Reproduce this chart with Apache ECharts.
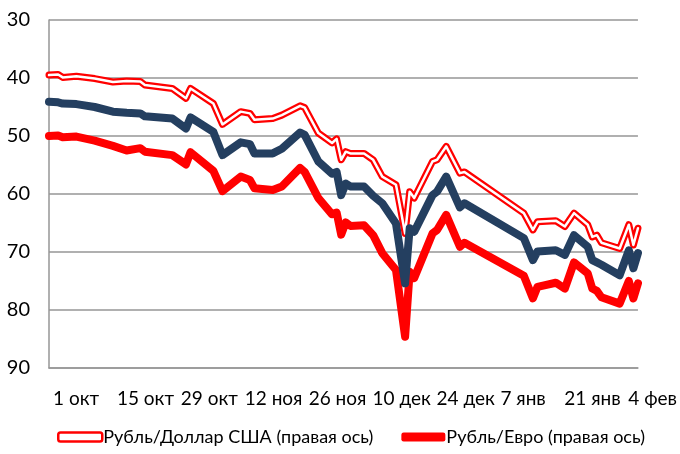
<!DOCTYPE html>
<html>
<head>
<meta charset="utf-8">
<script src="https://cdn.jsdelivr.net/npm/echarts@6/dist/echarts.min.js"></script>
<style>
html,body{margin:0;padding:0;background:#fff;}
#chart{width:680px;height:454px;}
</style>
</head>
<body>
<div id="chart"></div>
<script>
// Dates of the observations
const dates = [
  '2014-10-01','2014-10-03','2014-10-04','2014-10-07','2014-10-11','2014-10-15','2014-10-18','2014-10-21','2014-10-22',
  '2014-10-28','2014-10-31','2014-11-01','2014-11-06','2014-11-08','2014-11-12','2014-11-14','2014-11-15','2014-11-19',
  '2014-11-21','2014-11-25','2014-11-26','2014-11-29','2014-12-02','2014-12-03','2014-12-04','2014-12-05','2014-12-06',
  '2014-12-09','2014-12-11','2014-12-13','2014-12-16','2014-12-18','2014-12-19','2014-12-20','2014-12-24','2014-12-25',
  '2014-12-27','2014-12-30','2014-12-31','2015-01-13','2015-01-15','2015-01-16','2015-01-20','2015-01-22','2015-01-24',
  '2015-01-27','2015-01-28','2015-01-29','2015-01-30','2015-02-03','2015-02-05','2015-02-06','2015-02-07'
];
// Рубль/Доллар США (hollow red line)
const usd = [
  39.5,39.4,39.9,39.7,40.1,40.7,40.5,40.6,41.2,
  41.8,43.5,41.8,44.4,48.0,45.8,46.1,47.2,47.0,
  46.4,44.8,45.1,49.5,51.2,50.5,54.1,52.7,53.0,
  53.0,54.1,57.0,58.4,66.8,59.6,60.7,54.4,54.1,
  51.8,56.4,56.2,63.3,66.2,64.8,64.6,65.6,63.3,
  65.3,67.4,67.1,68.4,69.4,65.3,68.8,65.9
];
// Currency basket (dark blue line, not in legend)
const basket = [
  44.1,44.2,44.4,44.5,45.0,45.8,46.0,46.1,46.6,
  47.0,48.7,46.8,49.3,53.3,51.1,51.4,53.0,53.0,
  52.2,49.4,49.8,54.4,56.5,56.2,60.2,58.2,58.7,
  58.7,60.3,61.6,65.1,75.4,65.9,66.5,60.2,59.6,
  57.0,62.3,61.6,67.6,71.4,69.9,69.7,70.5,67.1,
  69.1,71.4,71.8,72.2,74.0,69.7,72.8,70.2
];
// Рубль/Евро (solid red line)
const eur = [
  50.0,49.9,50.2,50.1,50.8,51.7,52.5,52.1,52.7,
  53.3,54.9,52.8,56.0,59.5,57.0,57.6,59.0,59.3,
  58.7,55.5,56.2,60.7,63.5,63.2,67.0,64.9,65.5,
  65.4,67.1,70.2,73.1,84.6,73.4,74.5,66.8,66.2,
  63.6,69.1,68.4,74.1,78.0,76.0,75.3,76.3,71.8,
  73.7,76.3,76.7,77.8,78.9,75.0,78.0,75.4
];
const tickLabels = ['1 окт','15 окт','29 окт','12 ноя','26 ноя','10 дек','24 дек','7 янв','21 янв','4 фев'];
const startDate = '2014-10-01';
const endDate = '2015-02-07';
const nameUsd = 'Рубль/Доллар США (правая ось)';
const nameEur = 'Рубль/Евро (правая ось)';

const DAY = 86400000;
const t0 = Date.parse(startDate + 'T00:00:00Z');
const dayOf = s => Math.round((Date.parse(s + 'T00:00:00Z') - t0) / DAY);
const pairs = arr => arr.map((v, i) => [dayOf(dates[i]), v]);

const FONT = 'Lato, "Liberation Sans", sans-serif';
const chart = echarts.init(document.getElementById('chart'), null, {renderer: 'canvas'});
chart.setOption({
  animation: false,
  backgroundColor: '#fff',
  grid: {left: 49, right: 32, top: 20, bottom: 86, containLabel: false},
  xAxis: {
    type: 'value', min: 0, max: dayOf(endDate), interval: 14,
    axisLine: {show: true, onZero: false, lineStyle: {color: '#969696', width: 1.5}},
    axisTick: {show: false},
    splitLine: {show: false},
    axisLabel: {
      show: true, color: '#000', fontFamily: FONT, fontSize: 19, margin: 21, align: 'left',
      padding: [0, 0, 0, 4], showMaxLabel: false,
      formatter: v => (v % 14 === 0 && tickLabels[v / 14] !== undefined) ? tickLabels[v / 14] : ''
    }
  },
  yAxis: {
    type: 'value', inverse: true, min: 30, max: 90, interval: 10,
    axisLine: {show: true, lineStyle: {color: '#969696', width: 1.5}},
    axisTick: {show: false},
    splitLine: {show: true, lineStyle: {color: '#969696', width: 1.5}},
    axisLabel: {color: '#000', fontFamily: FONT, fontSize: 20, margin: 19}
  },
  legend: {
    bottom: 3, left: 52, itemGap: 28, itemWidth: 44, itemHeight: 9,
    textStyle: {color: '#000', fontFamily: FONT, fontSize: 18, padding: [0, 0, 0, -4]},
    data: [
      {name: nameUsd, icon: 'roundRect', itemStyle: {color: '#fff', borderColor: '#ff0000', borderWidth: 2.5}},
      {name: nameEur, icon: 'roundRect', itemStyle: {color: '#ff0000'}}
    ]
  },
  series: [
    {name: nameEur, type: 'line', data: pairs(eur), showSymbol: false, smooth: false,
     lineStyle: {color: '#ff0000', width: 8, join: 'round', cap: 'round'}, itemStyle: {color: '#ff0000'}},
    {name: nameUsd, type: 'line', data: pairs(usd), showSymbol: false, smooth: false,
     lineStyle: {color: '#ff0000', width: 7, join: 'round', cap: 'round'}, itemStyle: {color: '#fff', borderColor: '#ff0000'}},
    {name: '_usd_inner', type: 'line', data: pairs(usd), showSymbol: false, smooth: false,
     lineStyle: {color: '#ffffff', width: 2.5, join: 'round', cap: 'round'}},
    {name: '_basket', type: 'line', data: pairs(basket), showSymbol: false, smooth: false,
     lineStyle: {color: '#243f60', width: 8, join: 'round', cap: 'round'}, itemStyle: {color: '#243f60'}}
  ]
});
</script>
</body>
</html>
